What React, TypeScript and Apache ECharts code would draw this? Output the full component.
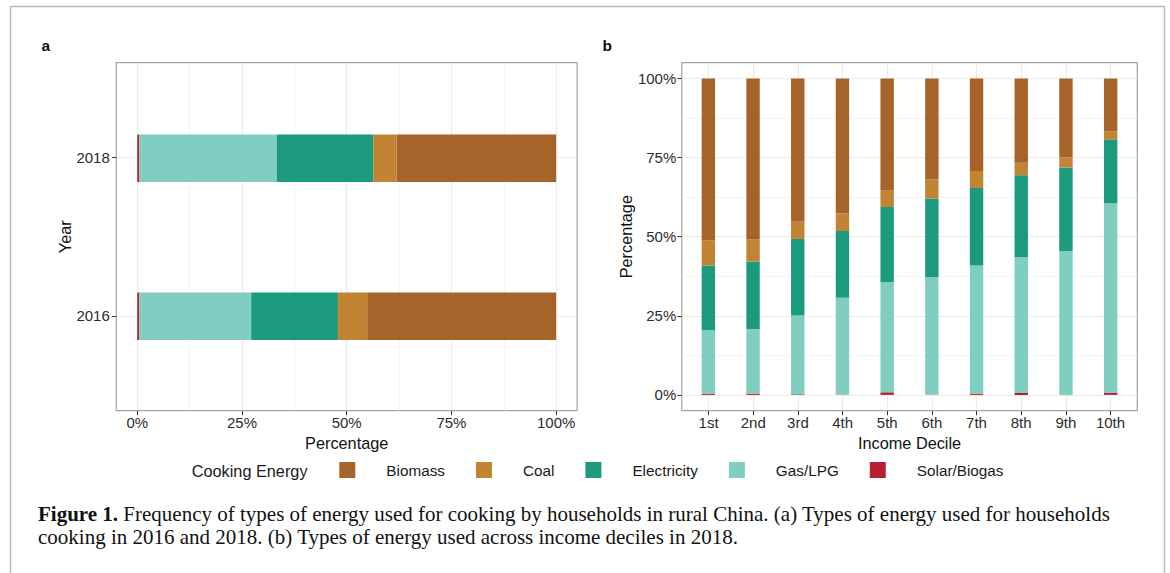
import React, { useEffect, useRef } from "react";
import * as echarts from "echarts";

// ---------- data ----------
const energyTypes = ["Biomass", "Coal", "Electricity", "Gas/LPG", "Solar/Biogas"];
const years = ["2016", "2018"];
// panel a: share (%) of households by energy type, [2016, 2018]
const solarA = [0.5, 0.5];
const gasA = [26.7, 32.8];
const elecA = [20.7, 23.1];
const coalA = [7.0, 5.5];
const bioA = [45.1, 38.1];

const deciles = ["1st", "2nd", "3rd", "4th", "5th", "6th", "7th", "8th", "9th", "10th"];
// panel b: share (%) by income decile, 2018
const solarB = [0.4, 0.4, 0.2, 0.1, 0.8, 0.1, 0.4, 0.6, 0.0, 0.7];
const gasB = [20.1, 20.4, 24.9, 30.6, 34.9, 37.2, 40.5, 42.9, 45.5, 59.9];
const elecB = [20.4, 21.4, 24.2, 21.1, 23.7, 24.8, 24.5, 25.9, 26.4, 20.1];
const coalB = [7.9, 7.0, 5.4, 5.5, 5.3, 6.0, 5.4, 4.0, 3.2, 2.6];
const bioB = [51.2, 50.8, 45.3, 42.7, 35.3, 31.9, 29.2, 26.6, 24.9, 16.7];

const pctTicks = [0, 25, 50, 75, 100];
const pctMinor = [12.5, 37.5, 62.5, 87.5];
const yearPos = [1, 2];
const decilePos = [1, 2, 3, 4, 5, 6, 7, 8, 9, 10];

const colors: Record<string, string> = {
  Biomass: "#A6632A",
  Coal: "#C08432",
  Electricity: "#1B9A7E",
  "Gas/LPG": "#80CDC1",
  "Solar/Biogas": "#B51F2E",
};

const captionLine1 =
  "{b|Figure 1.} Frequency of types of energy used for cooking by households in rural China. (a) Types of energy used for households";
const captionLine2 =
  "cooking in 2016 and 2018. (b) Types of energy used across income deciles in 2018.";

const SANS = "'Liberation Sans', Arial, sans-serif";
const SERIF = "'Liberation Serif', 'Times New Roman', serif";

export default function App() {
  const ref = useRef<HTMLDivElement>(null);

  useEffect(() => {
    if (!ref.current) return;
    const chart = echarts.init(ref.current, null, { renderer: "svg" });

    const gridLine = { show: true, lineStyle: { color: "#EBEBEB", width: 1.2 } };
    const minorLine = { show: true, lineStyle: { color: "#F1F1F1", width: 0.8 } };
    const tickStyle = { lineStyle: { color: "#333", width: 1 }, length: 4.5 };
    const labelStyle = { color: "#2b2b2b", fontSize: 15, fontFamily: SANS };
    const nameStyle = { color: "#111", fontSize: 16.3, fontFamily: SANS };
    const noLine = { show: false, onZero: false };

    const seriesA = [
      ["Solar/Biogas", solarA],
      ["Gas/LPG", gasA],
      ["Electricity", elecA],
      ["Coal", coalA],
      ["Biomass", bioA],
    ].map(([name, data]) => ({
      type: "bar",
      name,
      stack: "a",
      xAxisIndex: 2,
      yAxisIndex: 1,
      barWidth: 47.4,
      data,
      itemStyle: { color: colors[name as string] },
    }));

    const seriesB = [
      ["Solar/Biogas", solarB],
      ["Gas/LPG", gasB],
      ["Electricity", elecB],
      ["Coal", coalB],
      ["Biomass", bioB],
    ].map(([name, data]) => ({
      type: "bar",
      name,
      stack: "b",
      xAxisIndex: 4,
      yAxisIndex: 4,
      barWidth: 13.4,
      data,
      itemStyle: { color: colors[name as string] },
    }));

    chart.setOption({
      animation: false,
      backgroundColor: "#fff",
      grid: [
        { left: 116.3, top: 62.7, width: 460.8, height: 348, show: true, borderColor: "#A3A3A3", borderWidth: 1.2, backgroundColor: "#fff", containLabel: false, outerBoundsMode: "none" },
        { left: 116.3, top: 79.3, width: 460.8, height: 316, containLabel: false, outerBoundsMode: "none" },
        { left: 681.8, top: 62.7, width: 455.5, height: 348, show: true, borderColor: "#A3A3A3", borderWidth: 1.2, backgroundColor: "#fff", containLabel: false, outerBoundsMode: "none" },
        { left: 686, top: 62.7, width: 447, height: 348, containLabel: false, outerBoundsMode: "none" },
      ],
      xAxis: [
        {
          gridIndex: 0, type: "value", min: -5, max: 105, position: "bottom",
          axisLine: noLine,
          axisTick: { show: true, customValues: pctTicks, ...tickStyle },
          axisLabel: { customValues: pctTicks, formatter: (v: number) => v + "%", margin: 4, ...labelStyle },
          splitLine: gridLine,
          name: "Percentage", nameLocation: "middle", nameGap: 20.5, nameTextStyle: nameStyle,
        },
        {
          gridIndex: 0, type: "value", min: -5, max: 105, position: "top",
          axisLine: noLine,
          axisTick: { show: false, customValues: pctMinor },
          axisLabel: { show: false },
          splitLine: minorLine,
        },
        { gridIndex: 1, type: "value", min: -5, max: 105, show: false, axisLine: noLine, splitLine: { show: false } },
        {
          gridIndex: 2, type: "value", min: 0.4, max: 10.6, position: "bottom",
          axisLine: noLine,
          axisTick: { show: true, customValues: decilePos, ...tickStyle },
          axisLabel: { customValues: decilePos, formatter: (v: number) => deciles[Math.round(v) - 1], margin: 4, ...labelStyle },
          splitLine: gridLine,
          name: "Income Decile", nameLocation: "middle", nameGap: 20.5, nameTextStyle: nameStyle,
        },
        { gridIndex: 3, type: "category", data: deciles, show: false, axisLine: noLine, splitLine: { show: false } },
      ],
      yAxis: [
        {
          gridIndex: 0, type: "value", min: 0.4, max: 2.6, position: "left",
          axisLine: noLine,
          axisTick: { show: true, customValues: yearPos, ...tickStyle },
          axisLabel: { customValues: yearPos, formatter: (v: number) => years[Math.round(v) - 1], margin: 6.5, ...labelStyle },
          splitLine: gridLine,
          name: "Year", nameLocation: "middle", nameGap: 42.8, nameTextStyle: nameStyle,
        },
        { gridIndex: 1, type: "category", data: years, show: false, axisLine: noLine, splitLine: { show: false } },
        {
          gridIndex: 2, type: "value", min: -5, max: 105, position: "left",
          axisLine: noLine,
          axisTick: { show: true, customValues: pctTicks, ...tickStyle },
          axisLabel: { customValues: pctTicks, formatter: (v: number) => v + "%", margin: 5.5, ...labelStyle },
          splitLine: gridLine,
          name: "Percentage", nameLocation: "middle", nameGap: 46.7, nameTextStyle: nameStyle,
        },
        {
          gridIndex: 2, type: "value", min: -5, max: 105, position: "right",
          axisLine: noLine,
          axisTick: { show: false, customValues: pctMinor },
          axisLabel: { show: false },
          splitLine: minorLine,
        },
        { gridIndex: 3, type: "value", min: -5, max: 105, show: false, axisLine: noLine, splitLine: { show: false } },
      ],
      legend: {
        data: energyTypes,
        left: 339.3,
        top: 462,
        padding: 0,
        orient: "horizontal",
        icon: "rect",
        itemWidth: 16,
        itemHeight: 16,
        itemGap: 31,
        selectedMode: false,
        textStyle: { color: "#1a1a1a", fontSize: 15.3, fontFamily: SANS, padding: [0, 0, 0, 26] },
      },
      graphic: [
        {
          type: "rect", silent: true, z: 100,
          shape: { x: 10.5, y: 6.5, width: 1154, height: 620 },
          style: { fill: "none", stroke: "#BDBDBD", lineWidth: 1.5 },
        },
        { type: "text", x: 41.5, y: 45.5, style: { text: "a", fontSize: 15.5, fontWeight: "bold", fontFamily: SANS, fill: "#111", verticalAlign: "middle" } },
        { type: "text", x: 602.5, y: 45.5, style: { text: "b", fontSize: 15.5, fontWeight: "bold", fontFamily: SANS, fill: "#111", verticalAlign: "middle" } },
        { type: "text", x: 191.7, y: 471, style: { text: "Cooking Energy", fontSize: 16.3, fontFamily: SANS, fill: "#1a1a1a", verticalAlign: "middle" } },
        {
          type: "text", x: 38, y: 514,
          style: {
            text: captionLine1, fontSize: 21, fontFamily: SERIF, fill: "#111", verticalAlign: "middle",
            rich: { b: { fontWeight: "bold", fontSize: 21, fontFamily: SERIF, fill: "#111" } },
          },
        },
        {
          type: "text", x: 38, y: 536.5,
          style: { text: captionLine2, fontSize: 21, fontFamily: SERIF, fill: "#111", verticalAlign: "middle" },
        },
      ],
      series: [...seriesA, ...seriesB],
    });

    return () => chart.dispose();
  }, []);

  return (
    <div
      ref={ref}
      style={{ position: "absolute", left: 0, top: 0, width: 1170, height: 573 }}
    />
  );
}
